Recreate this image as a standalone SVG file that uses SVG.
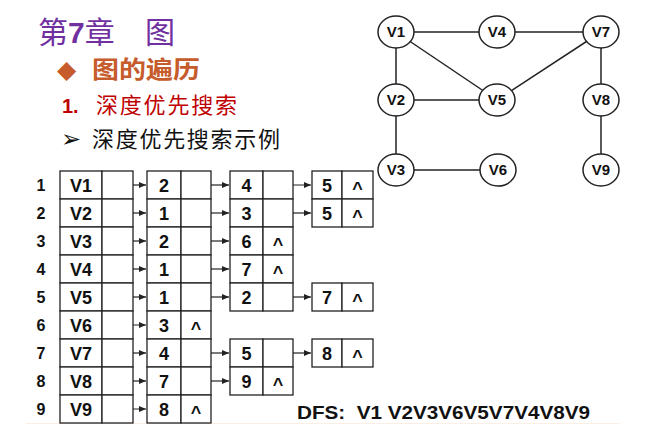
<svg xmlns="http://www.w3.org/2000/svg" width="672" height="437" viewBox="0 0 672 437">
<style>
.t{font-family:"Liberation Sans","Noto Sans CJK SC",sans-serif}
.cj{font-family:"Noto Sans CJK SC","Liberation Sans",sans-serif}
.box{fill:#fff;stroke:#222;stroke-width:1.3}
.lb{font-family:"Liberation Sans",sans-serif;font-weight:bold;font-size:18px;text-anchor:middle;fill:#111}
.num{font-family:"Liberation Sans",sans-serif;font-weight:bold;font-size:16px;text-anchor:middle;fill:#111}
.car{font-family:"Liberation Sans",sans-serif;font-weight:bold;font-size:18px;text-anchor:middle;fill:#111}
.ar{stroke:#222;stroke-width:1.2;fill:none;marker-end:url(#ah)}
.ed{stroke:#222;stroke-width:1.5}
.gn{fill:#fff;stroke:#222;stroke-width:1.5}
.gl{font-family:"Liberation Sans",sans-serif;font-weight:bold;font-size:15px;text-anchor:middle;fill:#111}
</style>
<defs>
<marker id="ah" markerUnits="userSpaceOnUse" markerWidth="7" markerHeight="6" refX="7" refY="3" orient="auto">
<path d="M0,0 L7,3 L0,6 z" fill="#222"/>
</marker>
</defs>
<rect width="672" height="437" fill="#fff"/>
<line x1="26" y1="423.5" x2="620" y2="423.5" stroke="#fbeee4" stroke-width="1"/>

<g id="title">
<text class="cj" x="38" y="43" font-size="30" fill="#7030A0">第<tspan font-family="Liberation Sans" font-weight="bold">7</tspan>章</text>
<text class="cj" x="145" y="43" font-size="30" fill="#7030A0">图</text>
</g>
<g id="heading">
<text x="57" y="78" font-family="DejaVu Sans" font-size="25" fill="#C65B2B">◆</text>
<text class="cj" x="92" y="78" font-size="24" font-weight="bold" fill="#C65B2B" textLength="108" lengthAdjust="spacingAndGlyphs">图的遍历</text>
</g>
<g id="sub1">
<text x="62" y="113" font-family="Liberation Sans" font-weight="bold" font-size="20" fill="#C00000">1.</text>
<text class="cj" x="96" y="113" font-size="22" fill="#C00000" textLength="141">深度优先搜索</text>
</g>
<g id="sub2">
<text x="61" y="147" font-family="DejaVu Sans" font-size="24" fill="#111">➢</text>
<text class="cj" x="92" y="147" font-size="22" fill="#111" textLength="188">深度优先搜索示例</text>
</g>

<g id="connectors">
<line class="ed" x1="396" y1="32" x2="497" y2="32"/>
<line class="ed" x1="497" y1="32" x2="601" y2="32"/>
<line class="ed" x1="396" y1="32" x2="396" y2="100"/>
<line class="ed" x1="396" y1="32" x2="497" y2="100"/>
<line class="ed" x1="601" y1="32" x2="497" y2="100"/>
<line class="ed" x1="396" y1="100" x2="497" y2="100"/>
<line class="ed" x1="601" y1="32" x2="601" y2="100"/>
<line class="ed" x1="396" y1="100" x2="396" y2="170"/>
<line class="ed" x1="396" y1="170" x2="498" y2="170"/>
<line class="ed" x1="601" y1="100" x2="601" y2="170"/>

<line class="ar" x1="117" y1="185" x2="146" y2="185"/>
<line class="ar" x1="117" y1="213" x2="146" y2="213"/>
<line class="ar" x1="117" y1="241" x2="146" y2="241"/>
<line class="ar" x1="117" y1="269" x2="146" y2="269"/>
<line class="ar" x1="117" y1="297" x2="146" y2="297"/>
<line class="ar" x1="113" y1="325" x2="146" y2="325"/>
<line class="ar" x1="117" y1="353" x2="146" y2="353"/>
<line class="ar" x1="117" y1="381" x2="146" y2="381"/>
<line class="ar" x1="113" y1="409" x2="146" y2="409"/>

<line class="ar" x1="197" y1="185" x2="229" y2="185"/>
<line class="ar" x1="198" y1="213" x2="229" y2="213"/>
<line class="ar" x1="197" y1="241" x2="229" y2="241"/>
<line class="ar" x1="197" y1="269" x2="229" y2="269"/>
<line class="ar" x1="197" y1="297" x2="229" y2="297"/>
<line class="ar" x1="197" y1="353" x2="229" y2="353"/>
<line class="ar" x1="198" y1="381" x2="229" y2="381"/>

<line class="ar" x1="278" y1="185" x2="311" y2="185"/>
<line class="ar" x1="279" y1="213" x2="311" y2="213"/>
<line class="ar" x1="279" y1="297" x2="311" y2="297"/>
<line class="ar" x1="279" y1="353" x2="311" y2="353"/>
</g>

<g id="gV1"><ellipse class="gn" cx="396" cy="32" rx="18" ry="16"/><text class="gl" x="396" y="37">V1</text></g>
<g id="gV4"><ellipse class="gn" cx="497" cy="32" rx="18" ry="16"/><text class="gl" x="497" y="37">V4</text></g>
<g id="gV7"><ellipse class="gn" cx="601" cy="32" rx="18" ry="16"/><text class="gl" x="601" y="37">V7</text></g>
<g id="gV2"><ellipse class="gn" cx="396" cy="100" rx="18" ry="16"/><text class="gl" x="396" y="105">V2</text></g>
<g id="gV5"><ellipse class="gn" cx="497" cy="100" rx="18" ry="16"/><text class="gl" x="497" y="105">V5</text></g>
<g id="gV8"><ellipse class="gn" cx="601" cy="100" rx="18" ry="16"/><text class="gl" x="601" y="105">V8</text></g>
<g id="gV3"><ellipse class="gn" cx="396" cy="170" rx="18" ry="16"/><text class="gl" x="396" y="175">V3</text></g>
<g id="gV6"><ellipse class="gn" cx="498" cy="170" rx="18" ry="16"/><text class="gl" x="498" y="175">V6</text></g>
<g id="gV9"><ellipse class="gn" cx="601" cy="170" rx="18" ry="16"/><text class="gl" x="601" y="175">V9</text></g>

<g id="rownums">
<text class="num" x="41" y="191">1</text>
<text class="num" x="41" y="219">2</text>
<text class="num" x="41" y="247">3</text>
<text class="num" x="41" y="275">4</text>
<text class="num" x="41" y="303">5</text>
<text class="num" x="41" y="331">6</text>
<text class="num" x="41" y="359">7</text>
<text class="num" x="41" y="387">8</text>
<text class="num" x="41" y="415">9</text>
</g>

<g id="head1"><rect class="box" x="60" y="171" width="42" height="28"/><rect class="box" x="102" y="171" width="31" height="28"/><text class="lb" x="81" y="192">V1</text></g>
<g id="head2"><rect class="box" x="60" y="199" width="42" height="28"/><rect class="box" x="102" y="199" width="31" height="28"/><text class="lb" x="81" y="220">V2</text></g>
<g id="head3"><rect class="box" x="60" y="227" width="42" height="28"/><rect class="box" x="102" y="227" width="31" height="28"/><text class="lb" x="81" y="248">V3</text></g>
<g id="head4"><rect class="box" x="60" y="255" width="42" height="28"/><rect class="box" x="102" y="255" width="31" height="28"/><text class="lb" x="81" y="276">V4</text></g>
<g id="head5"><rect class="box" x="60" y="283" width="42" height="28"/><rect class="box" x="102" y="283" width="31" height="28"/><text class="lb" x="81" y="304">V5</text></g>
<g id="head6"><rect class="box" x="60" y="311" width="42" height="28"/><rect class="box" x="102" y="311" width="31" height="28"/><text class="lb" x="81" y="332">V6</text></g>
<g id="head7"><rect class="box" x="60" y="339" width="42" height="28"/><rect class="box" x="102" y="339" width="31" height="28"/><text class="lb" x="81" y="360">V7</text></g>
<g id="head8"><rect class="box" x="60" y="367" width="42" height="28"/><rect class="box" x="102" y="367" width="31" height="28"/><text class="lb" x="81" y="388">V8</text></g>
<g id="head9"><rect class="box" x="60" y="395" width="42" height="28"/><rect class="box" x="102" y="395" width="31" height="28"/><text class="lb" x="81" y="416">V9</text></g>

<g id="n1a"><rect class="box" x="147" y="171" width="34" height="28"/><rect class="box" x="181" y="171" width="30" height="28"/><text class="lb" x="164" y="192">2</text></g>
<g id="n2a"><rect class="box" x="147" y="199" width="34" height="28"/><rect class="box" x="181" y="199" width="30" height="28"/><text class="lb" x="164" y="220">1</text></g>
<g id="n3a"><rect class="box" x="147" y="227" width="34" height="28"/><rect class="box" x="181" y="227" width="30" height="28"/><text class="lb" x="164" y="248">2</text></g>
<g id="n4a"><rect class="box" x="147" y="255" width="34" height="28"/><rect class="box" x="181" y="255" width="30" height="28"/><text class="lb" x="164" y="276">1</text></g>
<g id="n5a"><rect class="box" x="147" y="283" width="34" height="28"/><rect class="box" x="181" y="283" width="30" height="28"/><text class="lb" x="164" y="304">1</text></g>
<g id="n6a"><rect class="box" x="147" y="311" width="34" height="28"/><rect class="box" x="181" y="311" width="30" height="28"/><text class="lb" x="164" y="332">3</text><text class="car" x="196" y="335">^</text></g>
<g id="n7a"><rect class="box" x="147" y="339" width="34" height="28"/><rect class="box" x="181" y="339" width="30" height="28"/><text class="lb" x="164" y="360">4</text></g>
<g id="n8a"><rect class="box" x="147" y="367" width="34" height="28"/><rect class="box" x="181" y="367" width="30" height="28"/><text class="lb" x="164" y="388">7</text></g>
<g id="n9a"><rect class="box" x="147" y="395" width="34" height="28"/><rect class="box" x="181" y="395" width="30" height="28"/><text class="lb" x="164" y="416">8</text><text class="car" x="196" y="419">^</text></g>

<g id="n1b"><rect class="box" x="230" y="171" width="33" height="28"/><rect class="box" x="263" y="171" width="30" height="28"/><text class="lb" x="246.5" y="192">4</text></g>
<g id="n2b"><rect class="box" x="230" y="199" width="33" height="28"/><rect class="box" x="263" y="199" width="30" height="28"/><text class="lb" x="246.5" y="220">3</text></g>
<g id="n3b"><rect class="box" x="230" y="227" width="33" height="28"/><rect class="box" x="263" y="227" width="30" height="28"/><text class="lb" x="246.5" y="248">6</text><text class="car" x="278" y="251">^</text></g>
<g id="n4b"><rect class="box" x="230" y="255" width="33" height="28"/><rect class="box" x="263" y="255" width="30" height="28"/><text class="lb" x="246.5" y="276">7</text><text class="car" x="278" y="279">^</text></g>
<g id="n5b"><rect class="box" x="230" y="283" width="33" height="28"/><rect class="box" x="263" y="283" width="30" height="28"/><text class="lb" x="246.5" y="304">2</text></g>
<g id="n7b"><rect class="box" x="230" y="339" width="33" height="28"/><rect class="box" x="263" y="339" width="30" height="28"/><text class="lb" x="246.5" y="360">5</text></g>
<g id="n8b"><rect class="box" x="230" y="367" width="33" height="28"/><rect class="box" x="263" y="367" width="30" height="28"/><text class="lb" x="246.5" y="388">9</text><text class="car" x="278" y="391">^</text></g>

<g id="n1c"><rect class="box" x="312" y="171" width="30" height="28"/><rect class="box" x="342" y="171" width="31" height="28"/><text class="lb" x="327" y="192">5</text><text class="car" x="357.5" y="195">^</text></g>
<g id="n2c"><rect class="box" x="312" y="199" width="30" height="28"/><rect class="box" x="342" y="199" width="31" height="28"/><text class="lb" x="327" y="220">5</text><text class="car" x="357.5" y="223">^</text></g>
<g id="n5c"><rect class="box" x="312" y="283" width="30" height="28"/><rect class="box" x="342" y="283" width="31" height="28"/><text class="lb" x="327" y="304">7</text><text class="car" x="357.5" y="307">^</text></g>
<g id="n7c"><rect class="box" x="312" y="339" width="30" height="28"/><rect class="box" x="342" y="339" width="31" height="28"/><text class="lb" x="327" y="360">8</text><text class="car" x="357.5" y="363">^</text></g>

<g id="dfs">
<text x="297" y="419" font-family="Liberation Sans" font-weight="bold" font-size="18" fill="#111" textLength="293" lengthAdjust="spacingAndGlyphs" xml:space="preserve">DFS:  V1 V2V3V6V5V7V4V8V9</text>
</g>
</svg>
